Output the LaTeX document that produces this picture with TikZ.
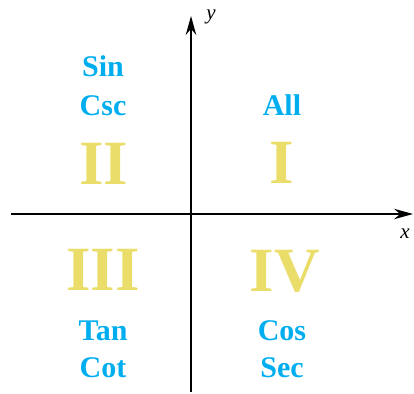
\documentclass[tikz,border=0pt]{standalone}
\usepackage{fontspec}
\setmainfont{Liberation Serif}
\usetikzlibrary{arrows.meta}
\definecolor{fncol}{RGB}{0,174,239}
\definecolor{quadcol}{RGB}{234,221,106}

\begin{document}
\begin{tikzpicture}[x=1pt,y=-1pt,
  fnlbl/.style={fncol,font=\fontsize{30}{30}\selectfont\bfseries,anchor=base,inner sep=0pt},
  qlbl/.style={quadcol,font=\fontsize{63}{63}\selectfont\bfseries,anchor=base,inner sep=0pt},
  axlbl/.style={font=\fontsize{21}{21}\selectfont\itshape,anchor=base,inner sep=0pt}]
  \useasboundingbox (0,0) rectangle (414,393);
  % axes
  \coordinate (xl) at (11,214); \coordinate (xr) at (413,214);
  \coordinate (yb) at (191,392); \coordinate (yt) at (191,16);
  \draw[line width=1.4pt,-{Stealth[length=19pt,width=10.5pt]}] (xl) -- (xr);
  \draw[line width=1.4pt,-{Stealth[length=19pt,width=10.5pt]}] (yb) -- (yt);
  \node[axlbl] (ylab) at (211,20) {y};
  \node[axlbl] (xlab) at (405,238) {x};
  % quadrant numbers
  \node[qlbl] (qI) at (282,183) {I};
  \node[qlbl] (qII) at (104,184) {II};
  \node[qlbl] (qIII) at (103,290) {III};
  \node[qlbl] (qIV) at (285,291) {IV};
  % positive functions
  \node[fnlbl] (sin) at (103,77) {Sin};
  \node[fnlbl] (csc) at (103,115) {Csc};
  \node[fnlbl] (all) at (282,115) {All};
  \node[fnlbl] (tan) at (103,340) {Tan};
  \node[fnlbl] (cot) at (103,377) {Cot};
  \node[fnlbl] (cos) at (282,340) {Cos};
  \node[fnlbl] (sec) at (282,377) {Sec};
\end{tikzpicture}
\end{document}
